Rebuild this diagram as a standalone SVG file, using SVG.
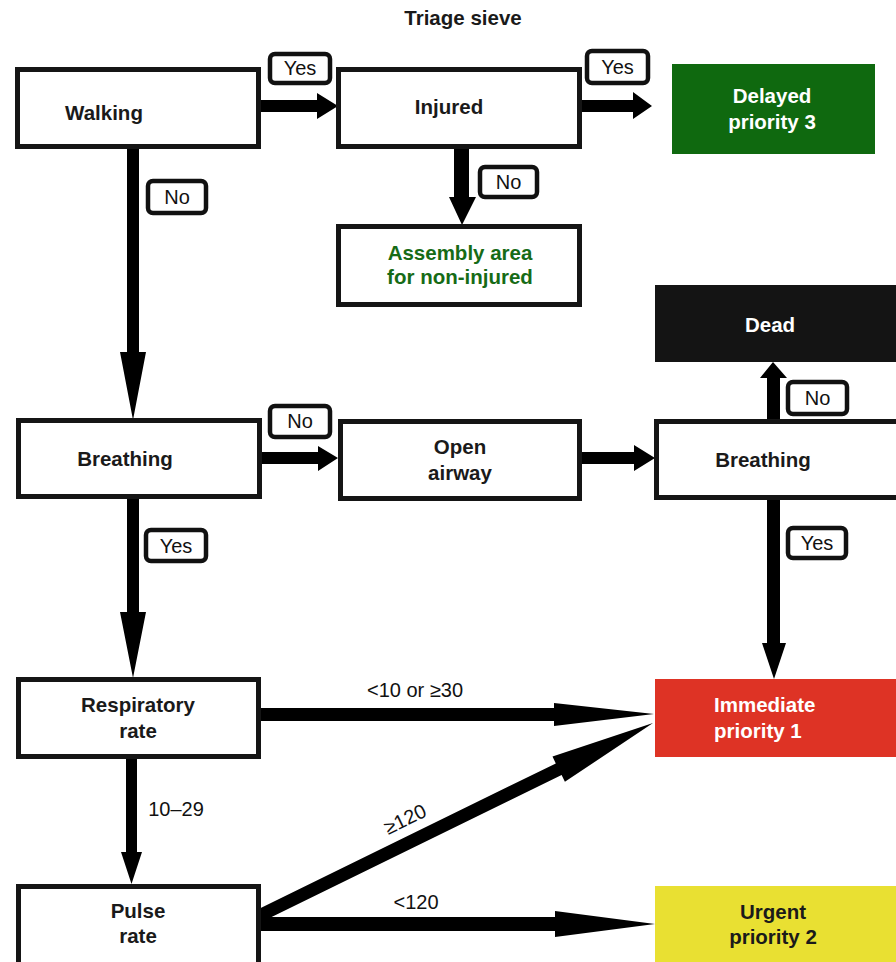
<svg xmlns="http://www.w3.org/2000/svg" width="896" height="962" viewBox="0 0 896 962">
<style>
.bx{fill:#fff;stroke:#151515;stroke-width:5}
.lb{fill:#fff;stroke:#111;stroke-width:4.5}
.t{font-family:"Liberation Sans",Arial,sans-serif;font-weight:bold;font-size:20.5px;fill:#1a1a1a;text-anchor:middle}
.w{fill:#fff}
.g{fill:#166b16}
.l{font-family:"Liberation Sans",Arial,sans-serif;font-size:20px;fill:#111;text-anchor:middle}
.c{fill:#000}
</style>
<rect width="896" height="962" fill="#fff"/>
<text class="t" x="463" y="25">Triage sieve</text>
<g id="connectors">
<polygon class="c" points="258,100 317,100 317,93 338,106 317,119 317,112 258,112"/>
<polygon class="c" points="579,100 633,100 633,92 652,106 633,119 633,112 579,112"/>
<polygon class="c" points="127,146 139,146 139,352 146,352 133,420 120,352 127,352"/>
<polygon class="c" points="454,146 469,146 469,197 476,197 462,225 449,197 454,197"/>
<polygon class="c" points="258,452 318,452 318,446 338,458 318,471 318,464 258,464"/>
<polygon class="c" points="579,452 634,452 634,445 655,458 634,471 634,464 579,464"/>
<polygon class="c" points="767,422 767,378 760,378 773,362 787,378 780,378 780,422"/>
<polygon class="c" points="767,498 780,498 780,643 786,643 774,679 762,643 767,643"/>
<polygon class="c" points="127,496 139,496 139,612 146,612 133,678 120,612 127,612"/>
<polygon class="c" points="258,708 554,708 554,703 654,714 554,726 554,721 258,721"/>
<polygon class="c" points="126,757 137,757 137,852 142,852 131.5,884 121,852 126,852"/>
<polygon class="c" points="258,917 555,917 555,911 655,924 555,937 555,931 258,931"/>
<polygon class="c" points="255.1,910.7 555.8,763.4 552.5,756.6 653,723 564.9,781.8 561.6,775 260.9,922.3"/>
</g>
<g id="labels">
<rect class="lb" x="270" y="54" width="60" height="29" rx="5"/><text class="l" x="300" y="75">Yes</text>
<rect class="lb" x="587" y="51" width="61" height="32" rx="5"/><text class="l" x="617.5" y="74">Yes</text>
<rect class="lb" x="148" y="181" width="58" height="32" rx="5"/><text class="l" x="177" y="204">No</text>
<rect class="lb" x="480" y="167" width="57" height="30" rx="5"/><text class="l" x="508.5" y="189">No</text>
<rect class="lb" x="270" y="406" width="60" height="31" rx="5"/><text class="l" x="300" y="428">No</text>
<rect class="lb" x="146" y="530" width="60" height="31" rx="5"/><text class="l" x="176" y="553">Yes</text>
<rect class="lb" x="788" y="382" width="59" height="32" rx="5"/><text class="l" x="817.5" y="405">No</text>
<rect class="lb" x="788" y="528" width="58" height="30" rx="5"/><text class="l" x="817" y="550">Yes</text>
<text class="l" x="415" y="697">&lt;10 or ≥30</text>
<text class="l" x="176" y="816">10–29</text>
<text class="l" x="416" y="909">&lt;120</text>
<text class="l" transform="translate(405,819) rotate(-26)" x="0" y="7">≥120</text>
</g>
<g id="walking"><rect class="bx" x="17.5" y="69.5" width="241" height="77"/><text class="t" x="104" y="120">Walking</text></g>
<g id="injured"><rect class="bx" x="338.5" y="69.5" width="241" height="77"/><text class="t" x="449" y="114">Injured</text></g>
<g id="delayed"><rect x="672" y="64" width="203" height="90" fill="#0f690f"/><text class="t w" x="772" y="103">Delayed</text><text class="t w" x="772" y="129">priority 3</text></g>
<g id="assembly"><rect class="bx" x="338.5" y="226.5" width="241" height="78"/><text class="t g" x="460" y="260">Assembly area</text><text class="t g" x="460" y="284">for non-injured</text></g>
<g id="dead"><rect x="655" y="285" width="241" height="77" fill="#141414"/><text class="t w" x="770" y="332">Dead</text></g>
<g id="breathing1"><rect class="bx" x="18.5" y="420.5" width="241" height="76"/><text class="t" x="125" y="466">Breathing</text></g>
<g id="openairway"><rect class="bx" x="340.5" y="421.5" width="239" height="77"/><text class="t" x="460" y="454">Open</text><text class="t" x="460" y="480">airway</text></g>
<g id="breathing2"><rect class="bx" x="656.5" y="421.5" width="242" height="76"/><text class="t" x="763" y="467">Breathing</text></g>
<g id="respiratory"><rect class="bx" x="18.5" y="679.5" width="240" height="77"/><text class="t" x="138" y="712">Respiratory</text><text class="t" x="138" y="738">rate</text></g>
<g id="immediate"><rect x="655" y="679" width="241" height="78" fill="#de3325"/><text class="t w" x="714" y="712" style="text-anchor:start">Immediate</text><text class="t w" x="714" y="738" style="text-anchor:start">priority 1</text></g>
<g id="pulse"><rect class="bx" x="18.5" y="886.5" width="240" height="82"/><text class="t" x="138" y="918">Pulse</text><text class="t" x="138" y="943">rate</text></g>
<g id="urgent"><rect x="655" y="886" width="241" height="76" fill="#e9e032"/><text class="t" x="773" y="919">Urgent</text><text class="t" x="773" y="944">priority 2</text></g>
</svg>
